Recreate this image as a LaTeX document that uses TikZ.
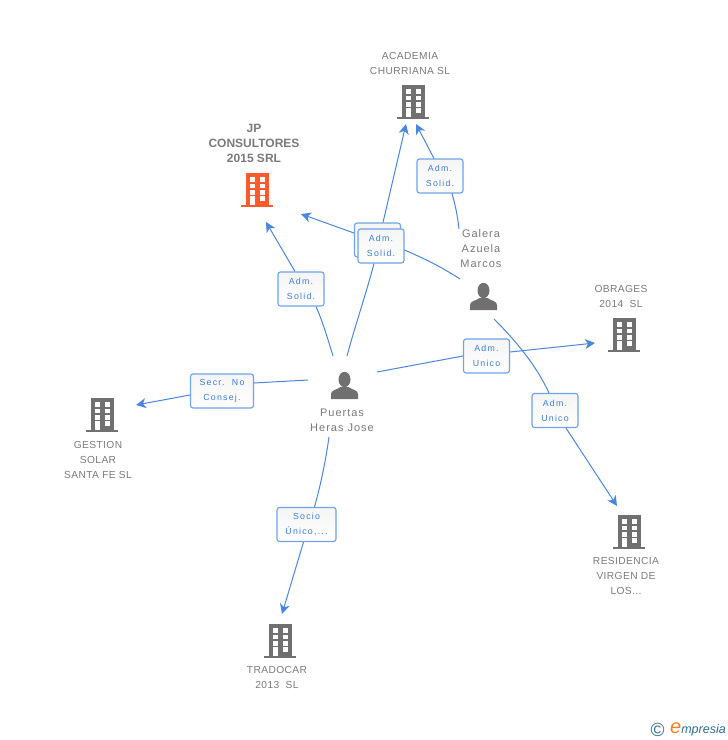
\documentclass[tikz,border=0pt]{standalone}
\usepackage{fontspec}
\setmainfont{Liberation Sans}
\usetikzlibrary{arrows.meta}
\definecolor{edgeblue}{HTML}{4A86E0}
\definecolor{boxblue}{HTML}{6FA3EA}
\definecolor{labelblue}{HTML}{3B7DDD}
\definecolor{iconGray}{HTML}{707070}
\definecolor{textGray}{HTML}{7A7A7A}
\definecolor{hiOrange}{HTML}{FF5A2B}
\definecolor{logoTeal}{HTML}{2F6F8F}
\definecolor{logoOrange}{HTML}{F58220}
\newfontfamily\spaced[LetterSpace=14]{Liberation Sans}
\newfontfamily\spacedp[LetterSpace=9]{Liberation Sans}
\newfontfamily\spacedb[LetterSpace=4]{Liberation Sans}
\tikzset{
  x=1pt,y=-1pt,
  conn/.style={draw=edgeblue,line width=1pt},
  arr/.style={conn,-{Stealth[length=10pt,width=10pt,inset=3pt]}},
  relbox/.style={draw=boxblue,line width=1.1pt,rounded corners=2.5pt,top color=gray!8,bottom color=white,
    text=labelblue,align=center,inner sep=0pt,minimum height=34pt,minimum width=46pt,
    font=\spaced\fontsize{8.8}{15}\selectfont},
  company/.style={text=textGray,align=center,inner sep=0pt,font=\spacedb\fontsize{10.2}{15}\selectfont},
  personlabel/.style={text=textGray,align=center,inner sep=0pt,font=\spacedp\fontsize{11}{15}\selectfont},
  hilabel/.style={text=textGray,align=center,inner sep=0pt,font=\bfseries\fontsize{12}{15}\selectfont},
  pics/bldg/.style={code={
    \fill[#1] (-11.5,-34) rectangle (11.5,-2);
    \fill[#1] (-16,-2) rectangle (16,0);
    \foreach \cx in {-7.5,2.5}{
      \foreach \cy in {-30,-23.5,-17}{
        \fill[white] (\cx,\cy) rectangle ++(5,4.6);
      }
    }
    \fill[white] (2.5,-11) rectangle ++(5,4.6);
    \fill[white] (-7,-11) rectangle (-2.5,-2);
  }},
  pics/persona/.style={code={
    \fill[iconGray] (0,-19.5) ellipse (6 and 7.7);
    \fill[iconGray] (-13.5,0) -- (-13.5,-5) .. controls (-13.5,-9) and (-8,-9) .. (-4,-12)
       -- (4,-12) .. controls (8,-9) and (13.5,-9) .. (13.5,-5) -- (13.5,0) -- cycle;
  }}
}
\begin{document}
\begin{tikzpicture}
\useasboundingbox (0,0) rectangle (728,740);
\fill[white] (0,0) rectangle (728,740);

% icons
\pic at (413,119) {bldg=iconGray};
\pic at (257,207) {bldg=hiOrange};
\pic at (102,432) {bldg=iconGray};
\pic at (624,352) {bldg=iconGray};
\pic at (629,549) {bldg=iconGray};
\pic at (280,658) {bldg=iconGray};
\pic at (344.5,399) {persona};
\pic at (483.5,310) {persona};

% labels of entities
\node[company] (academia) at (410,63.5) {ACADEMIA\\CHURRIANA SL};
\node[hilabel] (jp) at (254,143.5) {JP\\CONSULTORES\\2015 SRL};
\node[personlabel] (galera) at (481,249) {Galera\\Azuela\\Marcos};
\node[company] (obrages) at (621,296.5) {OBRAGES\\2014\ \ SL};
\node[personlabel] (puertas) at (342,420.5) {Puertas\\Heras Jose};
\node[company] (gestion) at (98,460) {GESTION\\SOLAR\\SANTA FE SL};
\node[company] (residencia) at (626,576) {RESIDENCIA\\VIRGEN DE\\LOS...};
\node[company] (tradocar) at (277,677.5) {TRADOCAR\\2013\ \ SL};

% connector ends
\coordinate (tipJPa) at (266,222);
\coordinate (tipJPb) at (301,214);
\coordinate (tipACa) at (406,124);
\coordinate (tipACb) at (416,124);
\coordinate (tipOB) at (595,343);
\coordinate (tipRE) at (617,506);
\coordinate (tipGE) at (136,405);
\coordinate (tipTR) at (282,614);
\coordinate (pJP) at (333,356);
\coordinate (pAC) at (347,356);
\coordinate (pOB) at (377,372);
\coordinate (pGE) at (308,380);
\coordinate (pTR) at (329,437);
\coordinate (gJP) at (460,279);
\coordinate (gAC) at (459,229);
\coordinate (gRE) at (494,319);

% relation boxes
\node[relbox] (b1) at (301,289) {Adm.\\Solid.};
\node[relbox] (b3) at (377.5,240) {};
\node[relbox] (b2) at (381,246) {Adm.\\Solid.};
\node[relbox] (b4) at (440,176) {Adm.\\Solid.};
\node[relbox] (b5) at (486.5,356) {Adm.\\Unico};
\node[relbox] (b6) at (555,410.5) {Adm.\\Unico};
\node[relbox,minimum width=63pt] (b7) at (222,391) {Secr.\ \ No\\Consej.};
\node[relbox,minimum width=59pt] (b8) at (306.5,524.5) {Socio\\Único,...};

% connectors
\draw[conn] (pJP) .. controls (327,336) and (322,320) .. ([xshift=15pt]b1.south);
\draw[arr] ([xshift=-6pt]b1.north) -- (tipJPa);
\draw[conn] (pAC) .. controls (355,326) and (366,294) .. ([xshift=-7pt]b2.south);
\draw[arr] ([xshift=5.5pt]b3.north) -- (tipACa);
\draw[conn] (gJP) .. controls (440,266) and (423,258) .. ([yshift=-4pt]b2.east);
\draw[arr] ([yshift=7pt]b3.west) -- (tipJPb);
\draw[conn] (gAC) .. controls (457.5,215) and (455,204) .. ([xshift=12pt]b4.south);
\draw[arr] ([xshift=-6pt]b4.north) -- (tipACb);
\draw[conn] (pOB) -- (b5.west);
\draw[arr] ([yshift=4pt]b5.east) -- (tipOB);
\draw[conn] (gRE) .. controls (518,343) and (537,367) .. ([xshift=-6pt]b6.north);
\draw[arr] ([xshift=11pt]b6.south) -- (tipRE);
\draw[conn] (pGE) -- ([yshift=8pt]b7.east);
\draw[arr] ([yshift=-4pt]b7.west) -- (tipGE);
\draw[conn] (pTR) .. controls (325,465) and (320,487) .. ([xshift=8pt]b8.north);
\draw[arr] ([xshift=-3pt]b8.south) -- (tipTR);

% logo
\node[inner sep=0pt,text=logoTeal,font=\fontsize{19}{19}\selectfont] (copyr) at (657.5,729.5) {©};
\node[inner sep=0pt,anchor=base west,font=\itshape\fontsize{12.5}{12.5}\selectfont,text=logoTeal] (logo) at (670,733.5)
  {{\fontsize{20}{20}\selectfont\color{logoOrange}e}mpresia};
\end{tikzpicture}
\end{document}
